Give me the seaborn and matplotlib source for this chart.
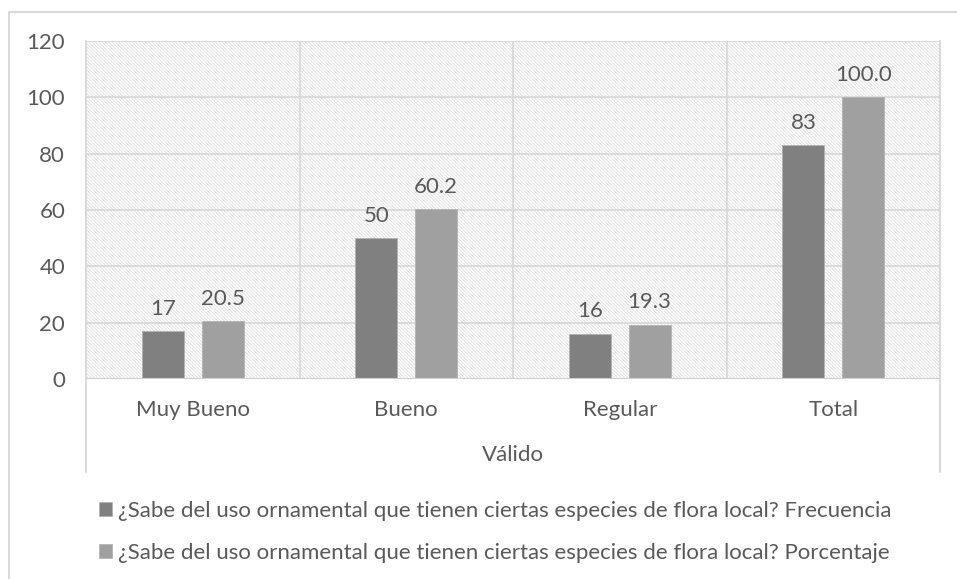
import pandas as pd
import seaborn as sns
import matplotlib.pyplot as plt
from matplotlib.patches import Rectangle
from matplotlib.lines import Line2D

categorias = ["Muy Bueno", "Bueno", "Regular", "Total"]
frecuencia = [17, 50, 16, 83]
porcentaje = [20.5, 60.2, 19.3, 100.0]
series = ["¿Sabe del uso ornamental que tienen ciertas especies de flora local? Frecuencia",
          "¿Sabe del uso ornamental que tienen ciertas especies de flora local? Porcentaje"]
yticks = [0, 20, 40, 60, 80, 100, 120]

df = pd.DataFrame({
    "categoria": categorias * 2,
    "serie": [series[0]] * 4 + [series[1]] * 4,
    "valor": frecuencia + porcentaje,
})

sns.set_style("white")
plt.rcParams['font.family'] = ['Lato', 'DejaVu Sans']
plt.rcParams['hatch.linewidth'] = 0.6
txt = "#595959"
grid = "#d9d9d9"
fs = 16

fig = plt.figure(figsize=(9.57, 5.79), dpi=100)
ax = fig.add_axes([86 / 957, 1 - 379 / 579, 854 / 957, 338 / 579])

# hatched background of the plot area
ax.add_patch(Rectangle((0, 0), 1, 1, transform=ax.transAxes, facecolor="white",
                       edgecolor="#dedede", hatch="\\" * 10, lw=0, zorder=0))

sns.barplot(data=df, x="categoria", y="valor", hue="serie", palette=["#808080", "#a0a0a0"],
            width=0.56, gap=0.3, ax=ax, zorder=3, edgecolor="#b0b0b0", linewidth=0.5)

ax.set_ylim(0, 120)
ax.set_xlim(-0.5, 3.5)
ax.set_yticks(yticks)
for y in yticks[1:]:
    ax.axhline(y, color=grid, lw=1.3, zorder=1)
for x in [0.5, 1.5, 2.5]:
    ax.axvline(x, color=grid, lw=1.3, zorder=1)
for s in ax.spines.values():
    s.set_visible(False)
ax.axhline(0, color="#cfcfcf", lw=1.5, zorder=4)

# left and right borders running down into the category table
for x in [0, 1]:
    ax.add_line(Line2D([x, x], [1, -0.275], transform=ax.transAxes, color=grid,
                       lw=1.5, clip_on=False))

ax.tick_params(axis="both", length=0, labelsize=fs, colors=txt)
ax.tick_params(axis="y", pad=15)
ax.tick_params(axis="x", pad=15)
ax.set_xlabel("Válido", fontsize=fs, color=txt, labelpad=18)
ax.set_ylabel("")

ax.bar_label(ax.containers[0], fmt="%d", padding=9, fontsize=fs, color=txt)
ax.bar_label(ax.containers[1], fmt="%.1f", padding=9, fontsize=fs, color=txt)

sns.move_legend(ax, loc="upper left", bbox_to_anchor=(90 / 957, 1 - 492 / 579),
                bbox_transform=fig.transFigure, frameon=False, title=None,
                fontsize=fs, labelcolor=txt, handlelength=0.6, handleheight=0.6,
                handletextpad=0.25, labelspacing=1.0, borderaxespad=0)

# outer chart frame (top and left)
fig.add_artist(Line2D([9 / 957, 1], [1 - 12 / 579, 1 - 12 / 579], color=grid, lw=1.5))
fig.add_artist(Line2D([9 / 957, 9 / 957], [0, 1 - 12 / 579], color=grid, lw=1.5))

fig.savefig("out.png", dpi=100)
